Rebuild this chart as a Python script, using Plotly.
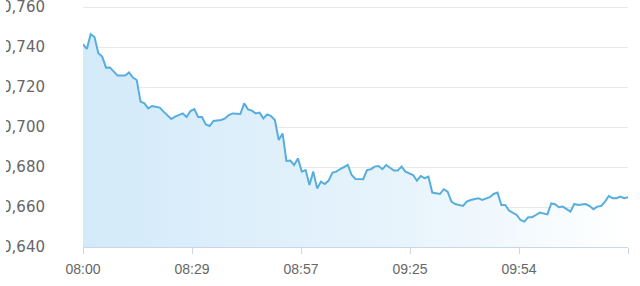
import plotly.graph_objects as go
import numpy as np

# minutes after 08:00 and prices
minutes = [0, 1, 2, 3, 4, 5, 6, 7, 9, 11, 12, 13, 14, 15, 16, 17, 18, 20, 21, 23,
           24, 26, 27, 28, 29, 30, 31, 32, 33, 34, 36, 37, 38, 39, 41, 42, 43, 44, 45, 46,
           47, 48, 49, 50, 51, 52, 53, 54, 55, 56, 57, 58, 59, 60, 61, 62, 63, 64, 65, 66,
           67, 68, 69, 70, 71, 73, 74, 75, 76, 77, 78, 79, 80, 81, 82, 83, 84, 86, 87, 88,
           89, 90, 91, 93, 94, 95, 96, 97, 99, 100, 101, 103, 104, 105, 106, 107, 108, 109, 110, 111,
           113, 114, 115, 116, 117, 118, 119, 121, 122, 123, 124, 125, 126, 127, 128, 129, 131, 132, 133, 134,
           135, 136, 137, 138, 139, 140, 141, 142]
prices = [0.7414, 0.7390, 0.7464, 0.7450, 0.7369, 0.7352, 0.7297, 0.7298, 0.7257, 0.7257,
          0.7273, 0.7247, 0.7235, 0.7127, 0.7118, 0.7093, 0.7105, 0.7097, 0.7077, 0.7040,
          0.7052, 0.7068, 0.7050, 0.7080, 0.7090, 0.7050, 0.7050, 0.7013, 0.7005, 0.7030,
          0.7035, 0.7043, 0.7060, 0.7068, 0.7065, 0.7118, 0.7088, 0.7082, 0.7068, 0.7072,
          0.7043, 0.7063, 0.7055, 0.7035, 0.6935, 0.6968, 0.6830, 0.6832, 0.6810, 0.6843,
          0.6777, 0.6785, 0.6710, 0.6777, 0.6693, 0.6727, 0.6715, 0.6732, 0.6772, 0.6777,
          0.6790, 0.6802, 0.6810, 0.6760, 0.6740, 0.6739, 0.6785, 0.6789, 0.6802, 0.6805,
          0.6789, 0.6810, 0.6794, 0.6782, 0.6782, 0.6802, 0.6777, 0.6760, 0.6732, 0.6755,
          0.6744, 0.6752, 0.6672, 0.6665, 0.6689, 0.6677, 0.6627, 0.6615, 0.6605, 0.6627,
          0.6635, 0.6644, 0.6635, 0.6644, 0.6649, 0.6665, 0.6672, 0.6610, 0.6610, 0.6582,
          0.6560, 0.6535, 0.6527, 0.6549, 0.6549, 0.6560, 0.6572, 0.6563, 0.6618, 0.6614,
          0.6599, 0.6602, 0.6589, 0.6577, 0.6615, 0.6610, 0.6615, 0.6605, 0.6589, 0.6602,
          0.6605, 0.6627, 0.6655, 0.6644, 0.6644, 0.6652, 0.6644, 0.6649]

x_tick_labels = ["08:00", "08:29", "08:57", "09:25", "09:54", ""]
y_ticks = [0.640, 0.660, 0.680, 0.700, 0.720, 0.740, 0.760]

x_tick_pos = list(np.linspace(minutes[0], minutes[-1], len(x_tick_labels)))

fig = go.Figure()
fig.add_trace(go.Scatter(
    x=minutes, y=prices, mode="lines",
    line=dict(color="#58addf", width=2),
    fill="tozeroy",
    fillgradient=dict(type="horizontal",
                      colorscale=[[0, "#d3eaf9"], [0.6, "#e8f4fc"], [1, "#ffffff"]]),
    hoverinfo="skip",
))

fig.update_layout(
    width=640, height=286,
    margin=dict(l=83, r=12, t=5, b=39),
    paper_bgcolor="white", plot_bgcolor="white",
    showlegend=False,
    separators=",.",
    font=dict(family="Liberation Sans, Arial, sans-serif", size=14, color="#666666"),
    shapes=[dict(type="rect", xref="paper", yref="paper",
                 x0=-83 / 545, x1=(6 - 83) / 545, y0=-0.2, y1=1.05,
                 fillcolor="white", line=dict(width=0), layer="above")],
)
fig.update_xaxes(
    range=[minutes[0], minutes[-1]],
    tickmode="array", tickvals=x_tick_pos, ticktext=x_tick_labels,
    showgrid=False, zeroline=False,
    showline=True, linecolor="#ccd6eb", linewidth=1,
    ticks="outside", ticklen=6, tickcolor="#ccd6eb",
    ticklabelstandoff=3,
    tickfont=dict(size=14, color="#666666"),
)
fig.update_yaxes(
    range=[0.640, 0.761],
    tickmode="array", tickvals=y_ticks, tickformat=".3f",
    showgrid=True, gridcolor="#e9e9e9", gridwidth=1,
    zeroline=False, showline=False, ticks="",
    ticklabelstandoff=37, automargin=False, ticklabeloverflow="allow",
    tickfont=dict(family="DejaVu Sans, sans-serif", size=15, color="#666666"),
)

fig.write_html("out.html")
